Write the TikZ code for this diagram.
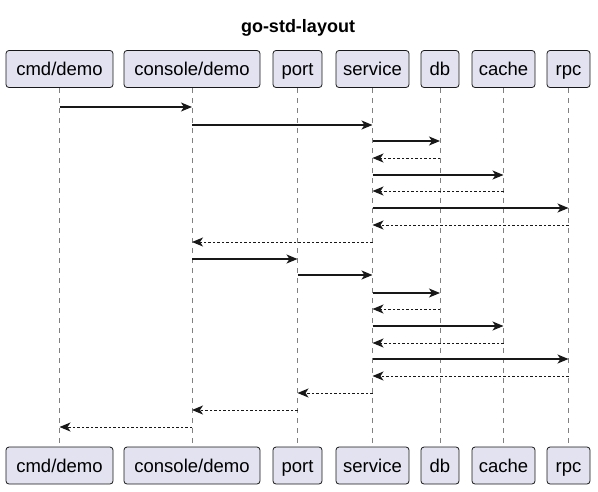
\documentclass[tikz,border=0pt]{standalone}
\usepackage{fontspec}
\setmainfont{Liberation Sans}
\usetikzlibrary{arrows.meta}
\definecolor{boxfill}{HTML}{E2E2F0}
\definecolor{boxline}{HTML}{181818}
\tikzset{
  actor/.style={draw=boxline,fill=boxfill,rounded corners=3pt,line width=0.8pt,
    minimum height=37pt,inner sep=0pt,text height=15pt,text depth=2pt,
    font=\fontsize{18.5}{22}\selectfont},
  lifeline/.style={draw=gray,line width=0.8pt,dash pattern=on 5pt off 5pt},
  msg/.style={draw=boxline,line width=1.3pt,-{Stealth[length=11pt,width=9pt,inset=3pt]}},
  reply/.style={draw=boxline,line width=1pt,dash pattern=on 2.5pt off 2pt,
    -{Stealth[length=11pt,width=9pt,inset=3pt,line width=1.3pt]}},
}
\begin{document}
\begin{tikzpicture}[x=1pt,y=-1pt]
\useasboundingbox (0,0) rectangle (598,491);

\node[font=\bfseries\fontsize{18}{21}\selectfont] (title) at (298,28) {go-std-layout};

% participants, top and bottom
\foreach \id/\txt/\cx/\w in {cmd/cmd\slash demo/59.5/107,console/console\slash demo/192/136,
    port/port/297.5/49,service/service/372.5/73,db/db/440/38,cache/cache/503.5/63,rpc/rpc/568.5/43}{
  \draw[lifeline] (\cx,88) -- (\cx,447);
  \node[actor,minimum width=\w pt] (\id-top) at (\cx,69) {\txt};
  \node[actor,minimum width=\w pt] (\id-bot) at (\cx,465.5) {\txt};
}

% messages
\foreach \src/\dst/\y/\sty in {cmd/console/107/msg,console/service/125/msg,
    service/db/141/msg,db/service/158/reply,service/cache/175/msg,cache/service/191/reply,
    service/rpc/208/msg,rpc/service/225/reply,service/console/242/reply,
    console/port/259/msg,port/service/275/msg,
    service/db/293/msg,db/service/309/reply,service/cache/326/msg,cache/service/343/reply,
    service/rpc/359/msg,rpc/service/376/reply,service/port/393/reply,
    port/console/410/reply,console/cmd/427/reply}{
  \draw[\sty] (\src-top |- 0,\y) -- (\dst-top |- 0,\y);
}
\end{tikzpicture}
\end{document}
